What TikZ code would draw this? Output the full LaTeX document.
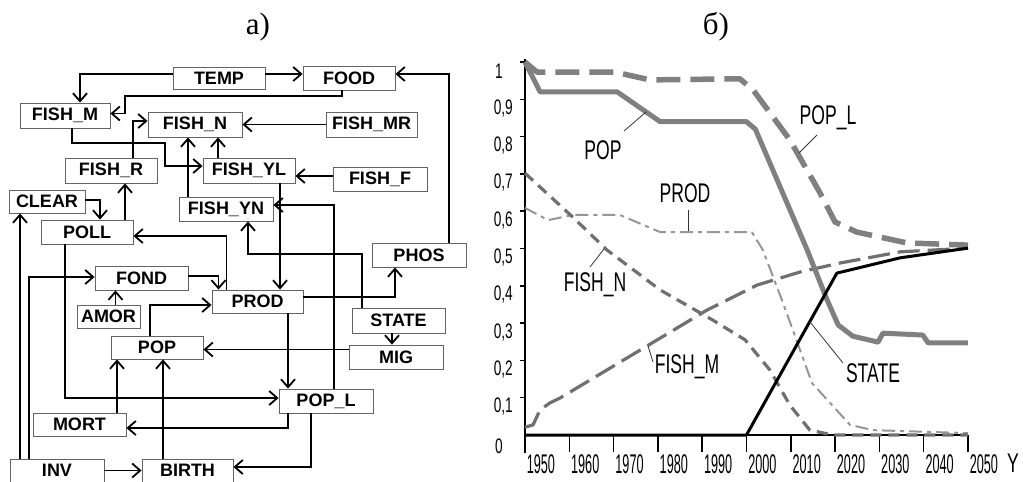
\documentclass[tikz,border=0pt]{standalone}
\usepackage{fontspec}
\setmainfont{Liberation Sans}
\newfontfamily\captfont{Liberation Serif}
\newfontfamily\chartfont{Liberation Sans}[FakeStretch=0.65]
\newfontfamily\yearfont{Liberation Sans}[FakeStretch=0.47]
\usetikzlibrary{arrows.meta}
\definecolor{boxgray}{RGB}{100,100,100}
\definecolor{popgray}{RGB}{128,128,128}
\definecolor{fishgray}{RGB}{112,112,112}
\definecolor{prodgray}{RGB}{150,150,150}

\begin{document}
\begin{tikzpicture}[
  x=1pt, y=-1pt,
  blk/.style={draw=boxgray, fill=white, line width=0.9pt, inner sep=0pt,
    minimum height=24pt, font=\fontsize{18}{20}\selectfont\bfseries},
  conn/.style={-{Straight Barb[length=8pt,width=14pt,line width=1.8pt]}, line width=1.7pt},
  lbl/.style={inner sep=0pt, font=\chartfont\fontsize{27}{30}\selectfont},
  lead/.style={draw=black!80, line width=0.8pt},
  axis/.style={line width=1.8pt},
  curve/.style={line join=round}
]
  \useasboundingbox (0,0) rectangle (1023,482);

  % panel captions
  \node[font=\captfont\fontsize{31}{34}\selectfont, anchor=base] (capa) at (258,34) {а)};
  \node[font=\captfont\fontsize{31}{34}\selectfont, anchor=base] (capb) at (716,34) {б)};

  % model blocks (a)
  \node[blk, minimum width=92pt, minimum height=22pt] (temp) at (219,78) {TEMP};
  \node[blk, minimum width=92pt] (food) at (349,78) {FOOD};
  \node[blk, minimum width=90pt, minimum height=25pt] (fishm) at (65,115.5) {FISH\_M};
  \node[blk, minimum width=94pt, minimum height=25pt] (fishn) at (195,124.5) {FISH\_N};
  \node[blk, minimum width=91pt, minimum height=25pt] (fishmr) at (371.5,124.5) {FISH\_MR};
  \node[blk, minimum width=92pt, minimum height=25pt] (fishr) at (111,170.5) {FISH\_R};
  \node[blk, minimum width=92pt, minimum height=25pt] (fishyl) at (249,170.5) {FISH\_YL};
  \node[blk, minimum width=94pt] (fishf) at (380,179) {FISH\_F};
  \node[blk, minimum width=94pt] (fishyn) at (226,209) {FISH\_YN};
  \node[blk, minimum width=76pt, minimum height=23pt] (clear) at (47,201.5) {CLEAR};
  \node[blk, minimum width=92pt] (poll) at (87,232) {POLL};
  \node[blk, minimum width=94pt] (phos) at (419,255) {PHOS};
  \node[blk, minimum width=93pt] (fond) at (141.5,278) {FOND};
  \node[blk, minimum width=63pt, minimum height=23pt] (amor) at (108.5,316.5) {AMOR};
  \node[blk, minimum width=91pt, minimum height=23pt] (prod) at (257.5,301.5) {PROD};
  \node[blk, minimum width=93pt, minimum height=25pt] (state) at (398.5,320.5) {STATE};
  \node[blk, minimum width=94pt] (mig) at (396,357) {MIG};
  \node[blk, minimum width=92pt, minimum height=23pt] (pop) at (157,347.5) {POP};
  \node[blk, minimum width=94pt] (popl) at (326,401) {POP\_L};
  \node[blk, minimum width=93pt, minimum height=23pt] (mort) at (79.5,424.5) {MORT};
  \node[blk, minimum width=94pt, minimum height=23pt] (inv) at (57,470.5) {INV};
  \node[blk, minimum width=91pt, minimum height=23pt] (birth) at (187.5,470.5) {BIRTH};

  % links
  \draw[conn] ([yshift=4pt]temp.west) -| ([xshift=15pt]fishm.north);
  \draw[conn] ([yshift=4pt]temp.east) -- ([yshift=4pt]food.west);
  \draw[conn] ([xshift=-7pt]food.south) |- (125,96) |- ([yshift=2pt]fishm.east);
  \draw[conn] ([xshift=30pt]phos.north) |- ([yshift=4pt]food.east);
  \draw[conn] (fishmr.west) -- (fishn.east);
  \draw[conn] ([xshift=7pt]fishm.south) |- (165,143) |- ([yshift=4.5pt]fishyl.west);
  \draw[conn] ([xshift=22pt]fishr.north) |- ([yshift=3.5pt]fishn.west);
  \draw[conn] ([xshift=-38pt]fishyn.north) -- ([xshift=-7pt]fishn.south);
  \draw[conn] ([xshift=-31pt]fishyl.north) -- ([xshift=23pt]fishn.south);
  \draw[conn] ([yshift=3pt]fishf.west) -- ([yshift=-5.5pt]fishyl.east);
  \draw[conn] ([yshift=1.5pt]clear.east) -| ([xshift=13pt]poll.north);
  \draw[conn] ([xshift=38pt]poll.north) -- ([xshift=14pt]fishr.south);
  \draw[conn] ([xshift=-31pt]prod.north) |- ([yshift=-4pt]poll.east);
  \draw[conn] ([yshift=2pt]fond.east) -| ([xshift=-39pt]prod.north);
  \draw[conn] ([xshift=7pt]amor.north) -- ([xshift=-26pt]fond.south);
  \draw[conn] ([xshift=-7pt]pop.north) |- ([yshift=-3.5pt]prod.west);
  \draw[conn] ([xshift=31pt]fishyl.south) -- ([xshift=22.5pt]prod.north);
  \draw[conn] ([yshift=4.5pt]prod.east) -| ([xshift=-24pt]phos.south);
  \draw[conn] ([xshift=-36.5pt]state.north) |- (248,254) -- ([xshift=22pt]fishyn.south);
  \draw[conn] ([xshift=8pt]popl.north) |- ([yshift=4pt]fishyn.east);
  \draw[conn] ([xshift=30.5pt]prod.south) -- ([xshift=-38pt]popl.north);
  \draw[conn] ([xshift=-6.5pt]state.south) -- ([xshift=-4pt]mig.north);
  \draw[conn] ([yshift=7.5pt]mig.west) -- ([yshift=-2pt]pop.east);
  \draw[conn] ([xshift=-22pt]poll.south) |- ([yshift=3pt]popl.west);
  \draw[conn] ([xshift=-38pt]popl.south) |- ([yshift=-3.5pt]mort.east);
  \draw[conn] ([xshift=37.5pt]mort.north) -- ([xshift=-40pt]pop.south);
  \draw[conn] ([xshift=-24.5pt]birth.north) -- ([xshift=6pt]pop.south);
  \draw[conn] (inv.east) -- (birth.west);
  \draw[conn] ([xshift=-15pt]popl.south) |- ([yshift=3.5pt]birth.east);
  \draw[conn] ([xshift=-37pt]inv.north) -- ([xshift=-27pt]clear.south);
  \draw[conn] ([xshift=-28pt]inv.north) |- ([yshift=1pt]fond.west);

  % chart (b): years on x, share on y
  \begin{scope}[xshift=-8113.5pt, yshift=-435pt, x=4.43pt, y=373pt]
    \draw[axis] (1950,-0.048) -- (1950,1.008);
    \draw[axis] (1950,0) -- (2050,0);
    \foreach \yr in {1960,1970,...,2050}
      \draw[line width=1.5pt] (\yr,0) -- (\yr,-0.046);
    \foreach \yr in {1950,1960,...,2050}
      \node[font=\yearfont\fontsize{27}{30}\selectfont, inner sep=0pt] (yr\yr) at (\yr+3.6,-0.078) {\yr};
    \foreach \v/\t [count=\i] in {0.1/{0,1},0.2/{0,2},0.3/{0,3},0.4/{0,4},0.5/{0,5},0.6/{0,6},0.7/{0,7},0.8/{0,8},0.9/{0,9}} {
      \draw[line width=1.5pt] (1950,\v) -- ++(-5pt,0);
      \node[font=\chartfont\fontsize{21}{24}\selectfont, inner sep=0pt, anchor=east] (tk\i) at ([xshift=-12pt,yshift=-9pt]1950,\v) {\t};
    }
    \draw[line width=1.5pt] (1950,1) -- ++(-5pt,0);
    \node[font=\chartfont\fontsize{21}{24}\selectfont, inner sep=0pt, anchor=east] (tkone) at ([xshift=-22pt,yshift=-9pt]1950,1) {1};
    \node[font=\chartfont\fontsize{21}{24}\selectfont, inner sep=0pt, anchor=east] (tkzero) at ([xshift=-22pt,yshift=-11pt]1950,0) {0};

    % PROD
    \draw[curve, prodgray, line width=2pt, dash pattern=on 13pt off 5pt on 4pt off 5pt]
      (1950,0.609) -- (1955.2,0.576) -- (1960.8,0.59) -- (1971.4,0.59) -- (1980.5,0.544)
      -- (2001.2,0.544) -- (2003.7,0.496) -- (2008,0.362) -- (2014.8,0.139)
      -- (2023.4,0.027) -- (2028.6,0.013) -- (2050,0.005);
    % FISH_N
    \draw[curve, fishgray, line width=3.2pt, dash pattern=on 11pt off 7pt]
      (1950,0.702) -- (1960.8,0.584) -- (1968.5,0.496) -- (1980.5,0.389) -- (1992.4,0.308)
      -- (1999.7,0.255) -- (2005.3,0.174) -- (2009.8,0.08) -- (2014.3,0.013)
      -- (2019.5,0) -- (2050,0);
    % FISH_M
    \draw[curve, fishgray, line width=3.2pt, dash pattern=on 22pt off 8pt]
      (1950,0.021) -- (1951.8,0.027) -- (1953.4,0.067) -- (1955.6,0.086) -- (1957.9,0.099)
      -- (1991.1,0.335) -- (2002.4,0.402) -- (2012.1,0.437) -- (2021.1,0.461)
      -- (2034.7,0.491) -- (2050,0.501);
    % POP_L
    \draw[curve, popgray, line width=5.5pt, dash pattern=on 24pt off 10pt]
      (1950,1.0) -- (1952.7,0.973) -- (1970.3,0.973) -- (1978.2,0.952) -- (1998.5,0.955)
      -- (2001.5,0.925) -- (2009.8,0.791) -- (2016.6,0.649) -- (2020,0.571)
      -- (2024.9,0.544) -- (2036.2,0.515) -- (2050,0.509);
    % POP
    \draw[curve, popgray, line width=5pt]
      (1950,1.0) -- (1953.4,0.92) -- (1970.8,0.92) -- (1980.5,0.84) -- (2000,0.84)
      -- (2002,0.82) -- (2013.7,0.496) -- (2018.2,0.362) -- (2020.7,0.295)
      -- (2024,0.265) -- (2029.7,0.249) -- (2030.8,0.273) -- (2039.8,0.268)
      -- (2041,0.247) -- (2050,0.247);
    % STATE
    \draw[curve, black, line width=3pt]
      (1950,0) -- (2000,0) -- (2020.4,0.434) -- (2034.7,0.475) -- (2050,0.501);
  \end{scope}

  % curve names
  \node[lbl] (lblpop) at (603,150) {POP};
  \node[lbl] (lblpopl) at (828,118) {POP\_L};
  \node[lbl] (lblprod) at (685,193) {PROD};
  \node[lbl] (lblfishn) at (595,285) {FISH\_N};
  \node[lbl] (lblfishm) at (687,367) {FISH\_M};
  \node[lbl] (lblstate) at (873,373) {STATE};
  \node[font=\chartfont\fontsize{27}{30}\selectfont, inner sep=0pt] (yaxis) at (1013,463) {Y};

  \coordinate (onpop) at (646,112);
  \coordinate (onpopl) at (799,153);
  \coordinate (onprod) at (688,231);
  \coordinate (onfishn) at (604,249);
  \coordinate (onfishm) at (648,346);
  \coordinate (onstate) at (810,322);

  \draw[lead] ([xshift=21pt,yshift=19pt]lblpop.center) -- (onpop);
  \draw[lead] ([xshift=-11pt,yshift=-17pt]lblpopl.center) -- (onpopl);
  \draw[lead] ([xshift=3pt,yshift=-17pt]lblprod.center) -- (onprod);
  \draw[lead] ([xshift=-5pt,yshift=18pt]lblfishn.center) -- (onfishn);
  \draw[lead] ([xshift=-34pt,yshift=5pt]lblfishm.center) -- (onfishm);
  \draw[lead] ([xshift=-30pt,yshift=10pt]lblstate.center) -- (onstate);
\end{tikzpicture}
\end{document}
